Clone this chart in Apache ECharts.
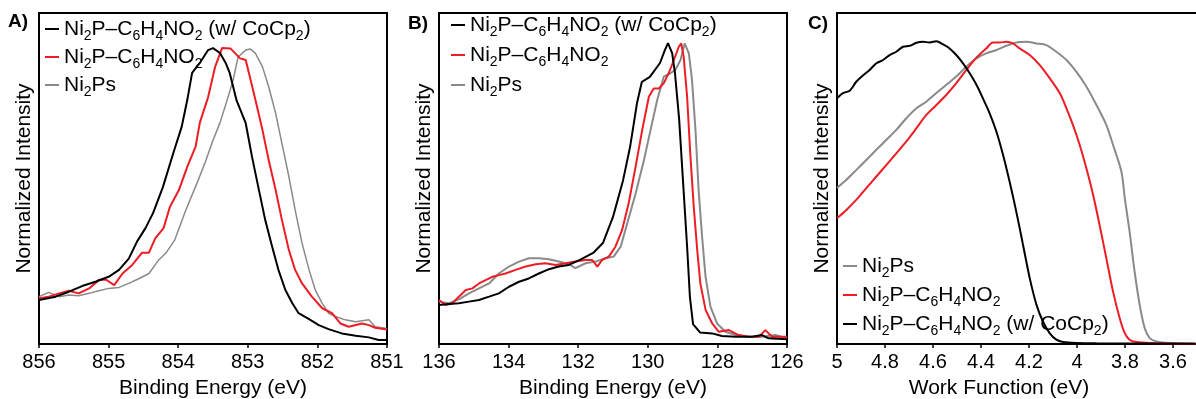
<!DOCTYPE html>
<html>
<head>
<meta charset="utf-8">
<script src="https://cdn.jsdelivr.net/npm/echarts@6/dist/echarts.min.js"></script>
<style>
  html, body { margin: 0; padding: 0; background: #fff; }
  #main { width: 1196px; height: 399px; }
</style>
</head>
<body>
<div id="main"></div>
<script type="text/javascript">
// series names (digits become subscripts in the legends)
var NAME_COCP = 'Ni2P–C6H4NO2 (w/ CoCp2)';
var NAME_NITRO = 'Ni2P–C6H4NO2';
var NAME_PS = 'Ni2Ps';

// A) Ni 2p XPS  [binding energy (eV), normalized intensity]
var niCocp = [[856.00,13.3],[855.76,14.3],[855.57,15.8],[855.38,17.5],[855.19,18.8],[855.00,20.3],[854.85,22.4],[854.71,25.8],[854.59,31.0],[854.47,35.0],[854.36,39.6],[854.22,47.4],[854.07,57.7],[853.95,65.6],[853.87,73.7],[853.80,81.9],[853.69,84.9],[853.57,88.8],[853.50,89.4],[853.40,87.9],[853.32,85.0],[853.26,81.9],[853.16,73.5],[853.03,66.7],[852.94,56.6],[852.84,46.5],[852.75,37.5],[852.65,29.4],[852.56,22.4],[852.46,16.3],[852.36,12.3],[852.27,9.3],[852.12,7.5],[851.98,5.7],[851.84,4.5],[851.65,3.2],[851.45,2.5],[851.26,2.0],[851.12,1.2],[851.00,1.2]];
var niNitro = [[856.00,13.8],[855.86,14.3],[855.71,15.3],[855.57,16.1],[855.43,15.3],[855.28,16.8],[855.14,19.3],[855.04,19.5],[854.92,17.8],[854.80,21.3],[854.66,23.9],[854.52,27.6],[854.42,27.6],[854.33,31.9],[854.21,35.0],[854.12,41.4],[853.99,46.5],[853.87,53.5],[853.75,59.6],[853.69,66.8],[853.57,74.6],[853.47,83.7],[853.37,89.4],[853.25,89.3],[853.18,87.8],[853.11,86.3],[853.03,85.8],[852.96,79.8],[852.89,73.7],[852.79,64.7],[852.70,55.6],[852.60,46.5],[852.51,37.5],[852.41,28.4],[852.32,22.4],[852.22,18.3],[852.08,14.3],[851.93,10.8],[851.79,9.3],[851.67,6.2],[851.55,5.2],[851.36,6.2],[851.26,5.7],[851.17,4.9],[851.00,4.4]];
var niPs = [[856.00,14.3],[855.86,15.6],[855.71,14.3],[855.57,14.8],[855.43,14.6],[855.28,15.3],[855.14,16.1],[855.00,16.8],[854.85,17.1],[854.71,18.3],[854.56,19.8],[854.42,21.3],[854.28,25.4],[854.18,27.4],[854.05,31.4],[853.89,40.5],[853.73,48.6],[853.61,55.0],[853.51,61.0],[853.40,66.8],[853.30,73.5],[853.21,79.8],[853.14,86.7],[853.03,88.8],[852.96,89.1],[852.89,87.8],[852.79,83.8],[852.70,77.7],[852.60,69.7],[852.51,60.6],[852.41,50.6],[852.32,40.5],[852.22,30.4],[852.12,22.4],[852.03,16.3],[851.93,12.3],[851.84,9.3],[851.74,8.3],[851.60,7.3],[851.45,6.7],[851.26,7.3],[851.17,5.2],[851.00,4.7]];

// B) P 2p XPS
var pCocp = [[136.00,11.8],[135.71,12.1],[135.43,12.3],[135.14,12.8],[134.85,13.3],[134.56,14.3],[134.28,15.3],[133.99,17.3],[133.70,18.8],[133.42,19.8],[133.13,21.3],[132.84,22.6],[132.56,23.4],[132.27,23.9],[131.95,25.4],[131.57,27.5],[131.29,30.5],[131.00,38.4],[130.71,49.5],[130.51,59.5],[130.31,72.8],[130.17,79.2],[129.94,80.7],[129.65,84.9],[129.51,88.8],[129.42,90.9],[129.30,87.9],[129.22,81.9],[129.10,68.0],[128.99,49.5],[128.87,29.3],[128.79,14.2],[128.70,6.0],[128.50,3.5],[128.15,3.2],[127.87,2.4],[127.48,2.2],[127.00,2.2],[126.72,2.7],[126.53,1.7],[126.00,1.4]];
var pNitro = [[136.00,13.3],[135.81,11.8],[135.62,12.3],[135.43,14.3],[135.23,16.3],[135.04,16.8],[134.85,18.3],[134.66,19.3],[134.47,20.3],[134.28,20.8],[134.09,21.3],[133.80,22.4],[133.51,23.4],[133.22,24.1],[132.94,24.4],[132.65,23.9],[132.36,24.4],[132.08,24.9],[131.79,25.4],[131.60,25.4],[131.45,23.4],[131.31,25.4],[131.12,26.4],[130.93,29.4],[130.74,34.4],[130.55,42.5],[130.35,53.6],[130.16,64.7],[129.97,74.7],[129.83,77.2],[129.68,77.2],[129.54,78.8],[129.40,81.8],[129.25,85.8],[129.11,89.8],[129.04,90.8],[128.97,86.8],[128.87,74.7],[128.78,57.6],[128.68,41.5],[128.58,28.4],[128.49,18.3],[128.34,10.3],[128.15,6.2],[127.96,3.7],[127.67,4.2],[127.39,2.7],[127.10,2.2],[126.81,2.2],[126.62,4.2],[126.43,2.2],[126.00,2.2]];
var pPs = [[136.00,12.8],[135.71,12.3],[135.43,13.5],[135.14,15.3],[134.85,16.8],[134.56,18.3],[134.28,21.3],[133.99,23.4],[133.70,24.9],[133.42,25.9],[133.13,25.9],[132.84,25.6],[132.56,24.9],[132.27,24.1],[132.08,22.9],[131.79,24.4],[131.50,24.9],[131.22,25.9],[130.98,26.4],[130.78,29.4],[130.59,36.5],[130.35,45.5],[130.11,55.6],[129.92,64.7],[129.73,73.7],[129.54,80.8],[129.35,81.8],[129.21,82.8],[129.06,85.8],[128.94,90.8],[128.82,87.8],[128.73,79.8],[128.63,64.7],[128.54,46.5],[128.44,32.4],[128.34,20.3],[128.20,11.3],[128.01,6.2],[127.77,3.7],[127.48,2.7],[127.10,2.2],[126.72,2.2],[126.33,2.7],[126.00,1.7]];

// C) UPS secondary edge  [work function (eV), normalized intensity]
var wfCocp = [[5.000,74.2],[4.975,75.8],[4.947,76.5],[4.919,79.3],[4.892,81.1],[4.864,82.8],[4.836,84.8],[4.808,85.8],[4.781,87.3],[4.753,88.3],[4.725,89.8],[4.697,90.1],[4.669,91.0],[4.642,91.3],[4.614,91.1],[4.586,91.5],[4.558,90.5],[4.531,89.3],[4.503,87.3],[4.475,84.8],[4.447,81.8],[4.419,78.3],[4.392,74.2],[4.364,69.7],[4.336,64.2],[4.308,57.1],[4.281,49.1],[4.253,40.0],[4.225,30.0],[4.197,19.9],[4.169,11.9],[4.142,6.8],[4.114,3.3],[4.086,1.3],[4.058,0.6],[4.003,0.3],[3.919,0.2],[3.506,0.1]];
var wfNitro = [[5.000,38.0],[4.961,40.5],[4.919,43.6],[4.878,47.1],[4.836,50.6],[4.794,54.1],[4.753,57.6],[4.711,61.2],[4.669,65.2],[4.628,69.2],[4.586,72.2],[4.544,75.3],[4.503,78.8],[4.461,82.8],[4.419,86.5],[4.378,89.3],[4.350,91.1],[4.322,91.1],[4.294,91.3],[4.267,90.8],[4.239,89.3],[4.197,87.3],[4.156,84.3],[4.114,80.3],[4.072,75.8],[4.044,71.2],[4.017,66.2],[3.989,60.2],[3.961,53.1],[3.933,45.1],[3.906,36.0],[3.878,26.0],[3.850,15.9],[3.822,7.8],[3.801,3.3],[3.781,1.3],[3.753,0.6],[3.697,0.3],[3.506,0.1]];
var wfPs = [[5.000,47.1],[4.961,49.6],[4.919,52.6],[4.878,55.6],[4.836,58.7],[4.794,61.7],[4.753,64.7],[4.711,68.2],[4.669,71.2],[4.628,73.2],[4.586,75.8],[4.544,78.3],[4.503,80.8],[4.461,83.8],[4.419,86.3],[4.378,87.8],[4.336,88.8],[4.294,90.1],[4.253,91.1],[4.211,91.3],[4.169,90.8],[4.128,90.3],[4.086,88.3],[4.044,85.8],[4.003,82.3],[3.961,77.8],[3.919,72.2],[3.878,66.2],[3.850,60.2],[3.815,52.1],[3.801,44.1],[3.781,34.0],[3.760,21.9],[3.739,11.9],[3.718,4.8],[3.697,1.8],[3.669,0.8],[3.614,0.3],[3.506,0.1]];

var FONT = '"Liberation Sans", Arial, sans-serif';
var BLACK = '#000000', RED = '#ee1c24', GRAY = '#8a8a8a';

var myChart = echarts.init(document.getElementById('main'));

// Ni2P -> {t|Ni}{s|2}{t|P}  for the legend subscripts
function subFmt(name) {
    return name.replace(/(\D+)/g, '{t|$1}').replace(/(\d)/g, '{s|$1}');
}
var legendText = {
    rich: {
        t: { fontSize: 21, fontFamily: FONT, color: '#000', lineHeight: 28, verticalAlign: 'middle' },
        s: { fontSize: 14, fontFamily: FONT, color: '#000', lineHeight: 10, verticalAlign: 'bottom' }
    }
};
function legend(left, top, gap, names) {
    return {
        orient: 'vertical', left: left, top: top, itemGap: gap, padding: 0,
        icon: 'rect', itemWidth: 14, itemHeight: 2,
        data: names, formatter: subFmt, textStyle: legendText,
        selectedMode: false
    };
}

function grid(left, width) {
    return { left: left, top: 13, width: width, height: 331, show: true, outerBoundsMode: 'none',
             borderColor: '#000', borderWidth: 2, backgroundColor: 'transparent' };
}
function xAxis(i, min, max, interval, name, pad) {
    return {
        type: 'value', gridIndex: i, min: min, max: max, interval: interval, inverse: true,
        name: name, nameLocation: 'middle', nameGap: 34,
        nameTextStyle: { fontSize: 21, fontFamily: FONT, color: '#000', padding: pad },
        axisLine: { show: false },
        axisTick: { show: true, inside: false, length: 4, lineStyle: { color: '#000', width: 1.5 } },
        axisLabel: { fontSize: 20, fontFamily: FONT, color: '#000', margin: 8, showMinLabel: true, showMaxLabel: true },
        splitLine: { show: false }
    };
}
function yAxis(i) {
    return {
        type: 'value', gridIndex: i, min: 0, max: 100,
        name: 'Normalized Intensity', nameLocation: 'middle', nameGap: 4,
        nameTextStyle: { fontSize: 21, fontFamily: FONT, color: '#000' },
        axisLine: { show: false }, axisTick: { show: false }, axisLabel: { show: false },
        splitLine: { show: false }
    };
}
function line(name, data, i, color, width, smooth) {
    return {
        name: name, type: 'line', xAxisIndex: i, yAxisIndex: i, data: data,
        showSymbol: false, symbol: 'none', smooth: smooth,
        lineStyle: { color: color, width: width }, itemStyle: { color: color }
    };
}
function label(text, left, top) {
    return { text: text, left: left, top: top, padding: 0,
             textStyle: { fontSize: 19, fontWeight: 'bold', fontFamily: FONT, color: '#000' } };
}

var option = {
    animation: false,
    backgroundColor: '#fff',
    title: [label('A)', 8, 12), label('B)', 408, 14), label('C)', 808, 14)],
    legend: [
        legend(45, 18.5, 3.5, [NAME_COCP, NAME_NITRO, NAME_PS]),
        legend(451, 14.5, 5.5, [NAME_COCP, NAME_NITRO, NAME_PS]),
        legend(843, 255.5, 4.5, [NAME_PS, NAME_NITRO, NAME_COCP])
    ],
    grid: [grid(39, 348), grid(439, 348), grid(837, 384)],
    xAxis: [
        xAxis(0, 851, 856, 1, 'Binding Energy (eV)', 0),
        xAxis(1, 126, 136, 2, 'Binding Energy (eV)', 0),
        xAxis(2, 3.4, 5, 0.2, 'Work Function (eV)', [0, 60, 0, 0])
    ],
    yAxis: [yAxis(0), yAxis(1), yAxis(2)],
    series: [
        line(NAME_PS, niPs, 0, GRAY, 1.5, false),
        line(NAME_NITRO, niNitro, 0, RED, 2, false),
        line(NAME_COCP, niCocp, 0, BLACK, 2, false),
        line(NAME_PS, pPs, 1, GRAY, 2, false),
        line(NAME_NITRO, pNitro, 1, RED, 2, false),
        line(NAME_COCP, pCocp, 1, BLACK, 2, false),
        line(NAME_PS, wfPs, 2, GRAY, 2, 0.3),
        line(NAME_NITRO, wfNitro, 2, RED, 2, 0.3),
        line(NAME_COCP, wfCocp, 2, BLACK, 2, 0.3)
    ]
};

myChart.setOption(option);
</script>
</body>
</html>
